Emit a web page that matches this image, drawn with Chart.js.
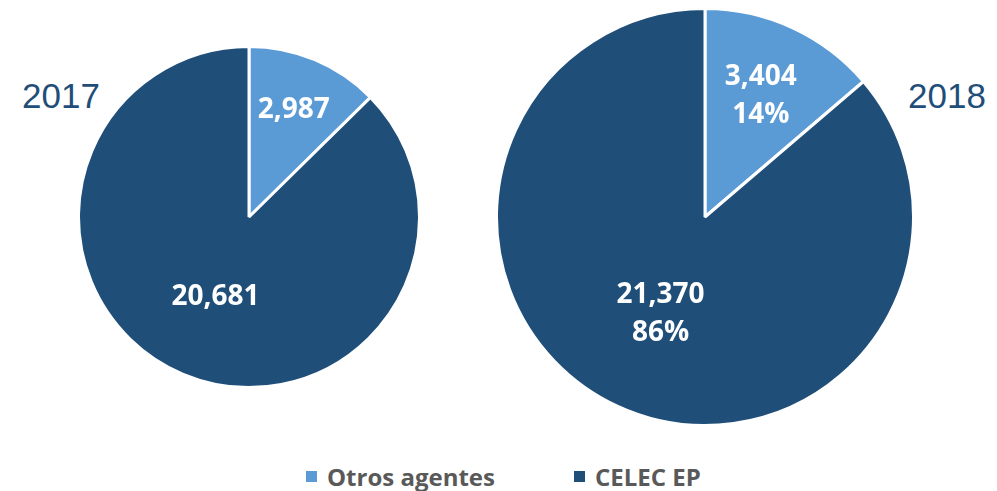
<!DOCTYPE html>
<html>
<head>
<meta charset="utf-8">
<script src="https://cdn.jsdelivr.net/npm/chart.js@4"></script>
<style>
  body { margin: 0; background: #fff; width: 997px; height: 491px; overflow: hidden; position: relative; }
  .pie { position: absolute; }
  .year { position: absolute; font-family: "Liberation Sans", Arial, sans-serif; font-size: 35px; color: #1F4E79; line-height: 1; }
  #legend { position: absolute; top: 460px; left: 306px; font-family: "Open Sans", sans-serif; font-weight: bold; font-size: 24px; color: #595959; }
  .item { position: absolute; top: 0; white-space: nowrap; display: flex; align-items: center; }
  .box { width: 11px; height: 11px; margin-right: 10px; }
</style>
</head>
<body>
<div class="year" style="left:22px; top:78px;">2017</div>
<div class="year" style="left:908px; top:78px;">2018</div>
<div class="pie" style="left:77px; top:45px; width:344px; height:344px;"><canvas id="pie2017"></canvas></div>
<div class="pie" style="left:495px; top:7px; width:420px; height:420px;"><canvas id="pie2018"></canvas></div>
<div id="legend"></div>
<script>
const categories = ['Otros agentes', 'CELEC EP'];
const values2017 = [2987, 20681];
const values2018 = [3404, 21370];
const colors = ['#5B9BD5', '#1F4E79'];

// draws the white labels inside the slices
const sliceLabels = {
  id: 'sliceLabels',
  afterDatasetsDraw(chart, args, opts) {
    const ctx = chart.ctx;
    const data = chart.data.datasets[0].data;
    const total = data.reduce((a, b) => a + b, 0);
    chart.getDatasetMeta(0).data.forEach((arc, i) => {
      const mid = (arc.startAngle + arc.endAngle) / 2;
      const r = arc.outerRadius * opts.factors[i];
      const x = arc.x + Math.cos(mid) * r;
      const y = arc.y + Math.sin(mid) * r;
      const lines = [data[i].toLocaleString('en-US')];
      if (opts.percent) lines.push(Math.round(data[i] / total * 100) + '%');
      ctx.save();
      ctx.fillStyle = '#fff';
      ctx.font = 'bold 28px "Open Sans"';
      ctx.textAlign = 'center';
      ctx.textBaseline = 'middle';
      const lh = 38;
      lines.forEach((t, k) => {
        ctx.fillText(t, x, y + (k - (lines.length - 1) / 2) * lh);
      });
      ctx.restore();
    });
  }
};

function makePie(id, values, percent, factors) {
  return new Chart(document.getElementById(id), {
    type: 'pie',
    data: {
      labels: categories,
      datasets: [{
        data: values,
        backgroundColor: colors,
        borderColor: '#fff',
        borderWidth: 3
      }]
    },
    options: {
      responsive: true,
      maintainAspectRatio: false,
      animation: false,
      layout: { padding: 0 },
      plugins: {
        legend: { display: false },
        tooltip: { enabled: true },
        sliceLabels: { factors: factors, percent: percent }
      }
    },
    plugins: [sliceLabels]
  });
}

makePie('pie2017', values2017, false, [0.68, 0.51]);
makePie('pie2018', values2018, true, [0.64, 0.51]);

// legend
const legend = document.getElementById('legend');
const legendX = [0, 268];
categories.forEach((c, i) => {
  const item = document.createElement('div');
  item.className = 'item';
  item.style.left = legendX[i] + 'px';
  const box = document.createElement('span');
  box.className = 'box';
  box.style.background = colors[i];
  item.appendChild(box);
  item.appendChild(document.createTextNode(c));
  legend.appendChild(item);
});
</script>
</body>
</html>
